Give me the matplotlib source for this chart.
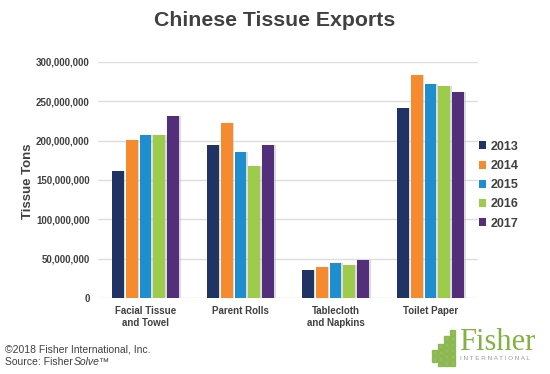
import matplotlib
matplotlib.use("Agg")
import matplotlib.pyplot as plt
import numpy as np
from matplotlib.patches import Rectangle
from matplotlib.ticker import FuncFormatter

categories = ["Facial Tissue\nand Towel", "Parent Rolls", "Tablecloth\nand Napkins", "Toilet Paper"]
years = ["2013", "2014", "2015", "2016", "2017"]
values = {
    "2013": [161e6, 195e6, 35e6, 241e6],
    "2014": [201e6, 223e6, 39e6, 283e6],
    "2015": [207e6, 186e6, 44.5e6, 272e6],
    "2016": [207e6, 168e6, 42.5e6, 270e6],
    "2017": [231e6, 195e6, 48e6, 262e6],
}
colors = ["#1f3464", "#f58a2e", "#1e8ecf", "#9dcb4c", "#532f7b"]
yticks = [0, 50e6, 100e6, 150e6, 200e6, 250e6, 300e6]

plt.rcParams['font.family'] = ['Liberation Sans', 'DejaVu Sans']

fig = plt.figure(figsize=(5.5, 3.74), dpi=100)
ax = fig.add_axes([98/550, 1-298/374, 380/550, (298-62)/374])

x = np.arange(len(categories))
step = 0.147
width = 0.126
for i, y in enumerate(years):
    off = (i - 2) * step
    ax.bar(x + off + 0.012, values[y], width, color="#bbbbbb", alpha=0.5, zorder=2)
    ax.bar(x + off, values[y], width, color=colors[i], label=y, zorder=3)

ax.set_xlim(-0.5, 3.5)
ax.set_ylim(0, 300e6)
ax.set_yticks(yticks)
ax.yaxis.set_major_formatter(FuncFormatter(lambda v, p: f"{int(v):,}"))
ax.grid(axis='y', color="#dddddd", linewidth=1, zorder=0)
ax.set_axisbelow(True)
for s in ax.spines.values():
    s.set_visible(False)
ax.tick_params(axis='both', length=0, labelsize=7, labelcolor="#404040", pad=6)
ax.set_xticks(x)
ax.set_xticklabels(categories, fontweight='bold', linespacing=1.2)
for t in ax.get_yticklabels():
    t.set_fontweight('bold')

fig.text(28/550, 1-181/374, "Tissue Tons", rotation=90, ha='center', va='center',
         fontsize=9.5, fontweight='bold', color="#404040")

leg = ax.legend(loc='center left', bbox_to_anchor=(0.995, 0.478), frameon=False,
                prop={'size': 9, 'weight': 'bold'}, handlelength=0.6, handleheight=0.6,
                handletextpad=0.35, labelspacing=0.58, borderaxespad=0, borderpad=0.2)
for t in leg.get_texts():
    t.set_color("#404040")

fig.text(0.5, 1-20/374, "Chinese Tissue Exports", ha='center', va='center',
         fontsize=15.3, fontweight='bold', color="#404040")

fig.text(5/550, 1-349/374, "\u00a92018 Fisher International, Inc.", ha='left', va='center',
         fontsize=7.5, color="#404040")
t1 = fig.text(5/550, 1-362/374, "Source: Fisher", ha='left', va='center', fontsize=7.5, color="#404040")
r = fig.canvas.get_renderer()
bb = t1.get_window_extent(r)
fig.text(bb.x1/550 + 0.5/550, 1-362/374, "Solve\u2122", ha='left', va='center', fontsize=7.5,
         color="#404040", style='italic')

# logo
green = "#82b241"
fig.text(459/550, 1-342/374, "Fisher", ha='left', va='center', fontsize=22,
         family='Liberation Serif', color=green)
fig.text(460/550, 1-359/374, "I N T E R N A T I O N A L", ha='left', va='center', fontsize=4.6,
         color="#9a9a9a")
blocks = [(432, 350, 5, 5), (432, 356, 5, 6),
          (438, 344, 5, 5), (438, 350, 5, 5), (438, 356, 5, 6), (438, 363, 5, 3),
          (444, 336, 5, 5), (444, 342, 5, 5), (444, 348, 5, 5), (444, 354, 5, 5), (444, 360, 5, 6),
          (450, 330, 5, 5), (450, 336, 5, 5), (450, 342, 5, 5), (450, 348, 5, 5), (450, 354, 5, 5), (450, 360, 5, 6)]
for (bx, by, bw, bh) in blocks:
    fig.patches.append(Rectangle((bx/550, 1-(by+bh)/374), bw/550, bh/374,
                                 transform=fig.transFigure, color=green, alpha=0.85))

fig.savefig("out.png", dpi=100)
